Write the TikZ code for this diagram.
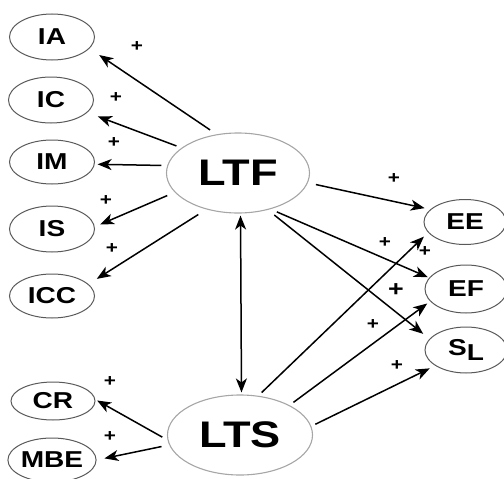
\documentclass[tikz,border=0pt]{standalone}
\usepackage{fontspec}
\newfontfamily\lab{Liberation Sans}[FakeStretch=1.22]
\usetikzlibrary{arrows.meta,shapes.geometric}
\begin{document}
\begin{tikzpicture}[x=1pt,y=-1pt,
  small/.style={ellipse,draw=black!65,line width=1pt,minimum width=85pt,minimum height=46pt,inner sep=0pt,
    font=\lab\bfseries\fontsize{23}{23}\selectfont},
  big/.style={ellipse,draw=black!35,line width=1.1pt,minimum width=144pt,minimum height=80pt,inner sep=0pt,
    font=\lab\bfseries\fontsize{37}{37}\selectfont},
  tipstyle/.style={},
  arr/.style={line width=1.5pt,-{Stealth[length=14pt,width=11pt,inset=4pt]}},
  darr/.style={line width=1.5pt,{Stealth[length=14pt,width=11pt,inset=4pt]}-{Stealth[length=14pt,width=11pt,inset=4pt]}},
  plus/.style={inner sep=0pt,font=\lab\bfseries\fontsize{17}{17}\selectfont},
  bigplus/.style={inner sep=0pt,font=\lab\bfseries\fontsize{22}{22}\selectfont}]
\useasboundingbox (0,0) rectangle (504,479);
% left ellipses
\node[small] (IA) at (52,37) {IA};
\node[small] (IC) at (51,100) {IC};
\node[small,minimum height=44pt] (IM) at (52,162) {IM};
\node[small] (IS) at (52,229) {IS};
\node[small,minimum height=44pt] (ICC) at (52,296) {ICC};
\node[small,minimum width=84pt,minimum height=38pt] (CR) at (53,401) {CR};
\node[small,minimum width=81pt,minimum height=44pt] (MBE) at (52,460) {MBE};
% central
\node[big,minimum width=143pt] (LTF) at (238,173) {LTF};
\node[big,minimum width=145pt] (LTS) at (240,435) {LTS};
% right
\node[small,minimum width=82pt,minimum height=45pt] (EE) at (465,222) {EE};
\node[small,minimum width=82pt,minimum height=48pt] (EF) at (466,289) {EF};
\node[small,minimum width=82pt,minimum height=46pt] (SL) at (466,350) {S\raisebox{-5pt}{L}};
% arrows from LTF
\draw[arr,shorten <=7.8pt,shorten >=11.7pt] (LTF.119) -- (IA.-17.4);
\draw[arr,shorten <=5.4pt,shorten >=11.2pt] (LTF.156.1) -- (IC.-19.2);
\draw[arr,shorten <=5.8pt,shorten >=2.8pt] (LTF.174) -- (IM.-3.8);
\draw[arr,shorten <=8.1pt,shorten >=5.7pt] (LTF.-163.5) -- (IS.3.6);
\draw[arr,shorten <=9.5pt,shorten >=9.8pt] (LTF.-131.5) -- (ICC.18.4);
\draw[arr,shorten <=8.2pt,shorten >=5.8pt] (LTF.-8.9) -- (EE.160.7);
\draw[arr,shorten <=6.8pt,shorten >=1.3pt] (LTF.-48.7) -- (EF.163.9);
\draw[arr,shorten <=8.2pt,shorten >=8pt] (LTF.-51.7) -- (SL.163.5);
% LTF <-> LTS
\draw[darr,shorten <=2pt,shorten >=2pt] ([xshift=2.5pt]LTF.south) -- ([xshift=1.5pt]LTS.north);
% arrows from LTS
\draw[arr,shorten <=6pt,shorten >=2pt] (LTS.-176.3) -- (CR.2.6);
\draw[arr,shorten <=7.8pt,shorten >=8pt] (LTS.-172) -- (MBE.0);
\draw[arr,shorten <=4.7pt,shorten >=5.9pt] (LTS.65.1) -- (EE.-164.1);
\draw[arr,shorten <=4.8pt,shorten >=3.6pt] (LTS.31.1) -- (EF.-161.6);
\draw[arr,shorten <=4.5pt,shorten >=6pt] (LTS.7.6) -- (SL.-153.4);
% plus signs
\node[plus] (p1) at (137,47) {+};
\node[plus] (p2) at (116,98) {+};
\node[plus] (p3) at (114,143) {+};
\node[plus] (p4) at (106,201) {+};
\node[plus] (p5) at (112,249) {+};
\node[plus] (p6) at (110,382) {+};
\node[plus] (p7) at (110,437) {+};
\node[plus] (p8) at (394,179) {+};
\node[plus] (p9) at (385,243) {+};
\node[plus] (p10) at (425,252) {+};
\node[bigplus] (p11) at (396,290) {+};
\node[plus] (p12) at (373,325) {+};
\node[plus] (p13) at (397,366) {+};
\end{tikzpicture}
\end{document}
